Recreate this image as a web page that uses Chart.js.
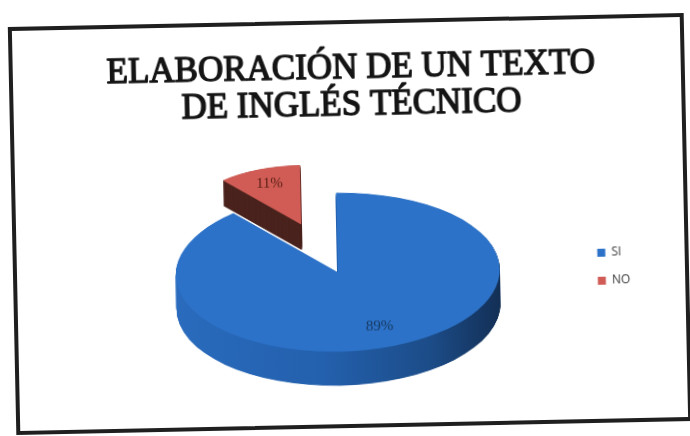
<!DOCTYPE html>
<html>
<head>
<meta charset="utf-8">
<script src="https://cdn.jsdelivr.net/npm/chart.js@4.4.1/dist/chart.umd.min.js"></script>
<style>
  html, body { margin: 0; padding: 0; background: #fff; width: 690px; height: 436px; overflow: hidden; }
  #frame {
    position: absolute; left: 12px; top: 20px;
    width: 676px; height: 408px; box-sizing: border-box;
    border: 4px solid #1f1f1f; background: #fff;
    transform: rotate(-1.2deg); transform-origin: 50% 50%;
  }
  #frame canvas { display: block; }
</style>
</head>
<body>
<div id="frame"><canvas id="chart" width="668" height="400"></canvas></div>
<script>
// Chart content
const titleLines = ['ELABORACIÓN DE UN TEXTO', 'DE INGLÉS TÉCNICO'];
const categories = ['SI', 'NO'];
const percentages = [89, 11];

// Styling
const topColors   = ['#2c72c8', '#d05c55'];
const labelColors = ['#173a63', '#5a1e14'];

// 3D look of the disc
const SQUASH = 0.49;           // vertical foreshortening of the tilted disc
const DEPTH = 34;              // slab thickness, screen px
const PERSPECTIVE = [1, 0.75]; // the pulled-out slice sits further back, so it looks smaller
const EXPLODE = [0, 105];      // how far each slice is pulled out from the centre
const LABEL_POS = [0.74, 0.75];

function sideFill(ctx, arc, i) {
  if (i === 1) return '#4a231e';
  const g = ctx.createLinearGradient(arc.x - arc.outerRadius, 0, arc.x + arc.outerRadius, 0);
  g.addColorStop(0, '#2a6bbd');
  g.addColorStop(0.45, '#2360ad');
  g.addColorStop(0.78, '#1c4c88');
  g.addColorStop(1, '#132f55');
  return g;
}

function pieCentre(chart) {
  const a = chart.chartArea;
  return { cx: (a.left + a.right) / 2, cy: (a.top + a.bottom) / 2 };
}

// Two-line heading above the plot, set in a serif face with a heavy outline
const heading = {
  id: 'heading',
  afterDraw(chart) {
    const ctx = chart.ctx;
    ctx.save();
    ctx.fillStyle = '#151515';
    ctx.strokeStyle = '#151515';
    ctx.lineWidth = 1.4;
    ctx.lineJoin = 'round';
    ctx.font = '35px "Liberation Serif", serif';
    ctx.textAlign = 'center';
    ctx.textBaseline = 'alphabetic';
    titleLines.forEach((line, k) => {
      const y = 54 + k * 37;
      ctx.fillText(line, 338, y);
      ctx.strokeText(line, 338, y);
    });
    ctx.restore();
  }
};

const pie3d = {
  id: 'pie3d',
  afterDatasetUpdate(chart, args) {
    args.meta.data.forEach((arc, i) => {
      const mid = (arc.startAngle + arc.endAngle) / 2;
      arc.x += Math.cos(mid) * EXPLODE[i];
      arc.y += Math.sin(mid) * EXPLODE[i];
      arc.outerRadius *= PERSPECTIVE[i];
    });
  },
  beforeDatasetsDraw(chart) {
    const ctx = chart.ctx;
    const { cx, cy } = pieCentre(chart);
    ctx.save();
    ctx.translate(cx, cy);
    ctx.scale(1, SQUASH);
    ctx.translate(-cx, -cy);
    // side walls, back slices first
    const arcs = chart.getDatasetMeta(0).data.map((arc, i) => ({ arc, i }));
    arcs.sort((p, q) => p.arc.y - q.arc.y);
    arcs.forEach(({ arc, i }) => {
      const depth = DEPTH * PERSPECTIVE[i];
      ctx.fillStyle = sideFill(ctx, arc, i);
      for (let d = depth; d >= 0.5; d -= 0.5) {
        const y = arc.y + d / SQUASH;
        ctx.beginPath();
        ctx.moveTo(arc.x, y);
        ctx.arc(arc.x, y, arc.outerRadius, arc.startAngle, arc.endAngle);
        ctx.closePath();
        ctx.fill();
      }
    });
  },
  afterDatasetsDraw(chart) {
    const ctx = chart.ctx;
    ctx.restore();
    const { cy } = pieCentre(chart);
    const data = chart.data.datasets[0].data;
    ctx.save();
    ctx.font = '15px "Liberation Serif", serif';
    ctx.textAlign = 'center';
    ctx.textBaseline = 'middle';
    chart.getDatasetMeta(0).data.forEach((arc, i) => {
      const mid = (arc.startAngle + arc.endAngle) / 2;
      const r = arc.outerRadius * LABEL_POS[i];
      const x = arc.x + Math.cos(mid) * r;
      const y = cy + (arc.y + Math.sin(mid) * r - cy) * SQUASH;
      ctx.fillStyle = labelColors[i];
      ctx.fillText(data[i] + '%', x, y);
    });
    ctx.restore();
  }
};

new Chart(document.getElementById('chart'), {
  type: 'pie',
  data: {
    labels: categories,
    datasets: [{
      data: percentages,
      backgroundColor: topColors,
      borderWidth: 0,
      clip: false
    }]
  },
  options: {
    responsive: false,
    animation: false,
    events: [],
    radius: 162,
    layout: { padding: { left: 77, right: 45, top: 106, bottom: 10 } },
    plugins: {
      title: { display: false },
      legend: {
        position: 'right',
        fullSize: false,
        labels: {
          boxWidth: 8,
          boxHeight: 8,
          padding: 16,
          color: '#3a3a3a',
          font: { family: 'Open Sans, sans-serif', size: 12 }
        }
      },
      tooltip: { enabled: false }
    }
  },
  plugins: [pie3d, heading]
});
</script>
</body>
</html>
